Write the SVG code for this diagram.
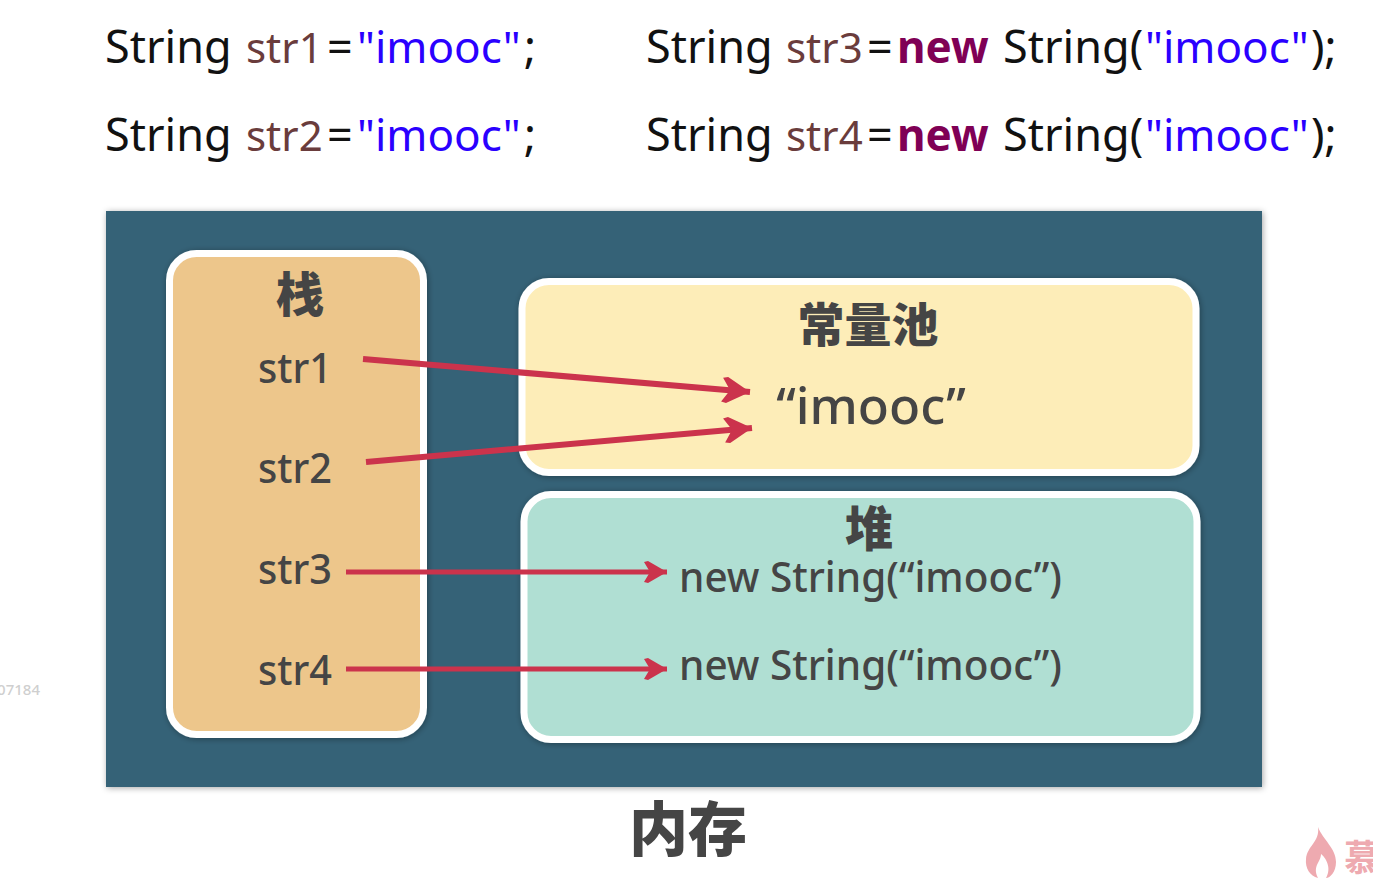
<svg xmlns="http://www.w3.org/2000/svg" width="1373" height="878" viewBox="0 0 1373 878">
<defs>
<filter id="sh" x="-5%" y="-5%" width="110%" height="110%"><feDropShadow dx="1" dy="1" stdDeviation="3" flood-color="#000" flood-opacity=".35"/></filter>
<marker id="arr" markerUnits="userSpaceOnUse" markerWidth="32" markerHeight="30" refX="29" refY="14" orient="auto"><path d="M1 2 L6 1 L29 14 L6 27 L1 26 L9 14 Z" fill="#cb334c"/></marker>
<marker id="arr2" markerUnits="userSpaceOnUse" markerWidth="28" markerHeight="26" refX="24" refY="12" orient="auto"><path d="M1 2 L5 1 L24 12 L5 23 L1 22 L7 12 Z" fill="#cb334c"/></marker>
</defs>
<style>
text{font-family:"Noto Sans","Open Sans","Noto Sans CJK SC",sans-serif}
.code{font-size:45px;fill:#111}
.v{fill:#6a3c3c;font-size:42px}.s{fill:#2a00ff;font-size:44px}.k{fill:#7f0055;font-weight:700;font-size:44px}
.box{stroke:#fff;stroke-width:7;filter:url(#sh)}
.lab{font-size:41px;fill:#454545;text-anchor:middle;font-weight:500}
.cjk{font-family:"Noto Sans CJK SC",sans-serif;font-weight:900;fill:#454545;text-anchor:middle}
.ln{stroke:#cb334c;stroke-width:6;fill:none;marker-end:url(#arr)}
.ln2{stroke:#cb334c;stroke-width:5;fill:none;marker-end:url(#arr2)}
</style>
<rect width="1373" height="878" fill="#fff"/>
<g id="code">
<text class="code" y="63" x="105">String <tspan class="v" x="246">str1</tspan><tspan x="327">=</tspan><tspan class="s" x="357">"imooc"</tspan><tspan x="524">;</tspan></text>
<text class="code" y="151" x="105">String <tspan class="v" x="246">str2</tspan><tspan x="327">=</tspan><tspan class="s" x="357">"imooc"</tspan><tspan x="524">;</tspan></text>
<text class="code" y="63" x="646">String <tspan class="v" x="786">str3</tspan><tspan x="867">=</tspan><tspan class="k" x="897">new</tspan><tspan x="1003">String(</tspan><tspan class="s" x="1145">"imooc"</tspan><tspan x="1311">);</tspan></text>
<text class="code" y="151" x="646">String <tspan class="v" x="786">str4</tspan><tspan x="867">=</tspan><tspan class="k" x="897">new</tspan><tspan x="1003">String(</tspan><tspan class="s" x="1145">"imooc"</tspan><tspan x="1311">);</tspan></text>
</g>
<g id="memory"><rect x="106" y="211" width="1156" height="576" fill="#346277" filter="url(#sh)"/></g>
<g id="stack">
<rect class="box" x="169.500" y="253.500" width="254" height="481" rx="27" fill="#edc68b"/>
<text class="cjk" x="300" y="312" font-size="48">栈</text>
<text class="lab" x="295" y="383" textLength="74" lengthAdjust="spacingAndGlyphs">str1</text>
<text class="lab" x="295" y="483" textLength="74" lengthAdjust="spacingAndGlyphs">str2</text>
<text class="lab" x="295" y="584" textLength="74" lengthAdjust="spacingAndGlyphs">str3</text>
<text class="lab" x="295" y="685" textLength="74" lengthAdjust="spacingAndGlyphs">str4</text>
</g>
<g id="pool">
<rect class="box" x="522" y="281.500" width="674" height="191" rx="27" fill="#fdedb8"/>
<text class="cjk" x="868" y="342" font-size="47">常量池</text>
<text x="871" y="424" font-size="51" fill="#454545" text-anchor="middle" font-weight="500">“imooc”</text>
</g>
<g id="heap">
<rect class="box" x="524" y="494.500" width="673" height="245" rx="27" fill="#b0dfd3"/>
<text class="cjk" x="869" y="546" font-size="48">堆</text>
<text class="lab" x="870.500" y="592" textLength="383" lengthAdjust="spacingAndGlyphs">new String(“imooc”)</text>
<text class="lab" x="870.500" y="680" textLength="383" lengthAdjust="spacingAndGlyphs">new String(“imooc”)</text>
</g>
<g id="connectors">
<path class="ln" d="M363 359 L750 392"/>
<path class="ln" d="M366 462 L752 428"/>
<path class="ln2" d="M346 572 L667 572"/>
<path class="ln2" d="M346 669 L667 669"/>
</g>
<g id="caption"><text class="cjk" x="688" y="851" font-size="59">内存</text></g>
<g id="watermark">
<text x="40" y="695" font-size="15" fill="#cfcfcf" text-anchor="end" font-weight="500">07184</text>
<path d="M1318 827 C1323 840 1336 848 1336 862 C1336 872 1330 878 1326 878 C1332 868 1326 858 1321 854 C1321 862 1312 866 1318 878 C1310 876 1305 868 1306 859 C1307 846 1320 842 1318 827 Z" fill="#eeaab0"/>
<text x="1344" y="871" font-size="36" fill="#eeaab0" font-family="Noto Sans CJK SC" font-weight="700">慕</text>
</g>
</svg>
